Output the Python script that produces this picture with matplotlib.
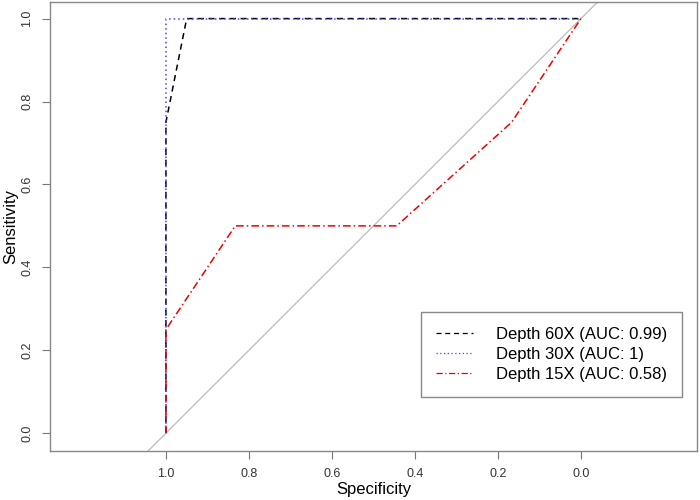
import matplotlib
matplotlib.use("Agg")
import matplotlib.pyplot as plt

plt.rcParams['font.family'] = ['Liberation Sans', 'DejaVu Sans']

# ROC points (specificity, sensitivity)
spec_60 = [1.0, 1.0, 0.95, 0.0]
sens_60 = [0.0, 0.75, 1.0, 1.0]

spec_30 = [1.0, 1.0, 0.0]
sens_30 = [0.0, 1.0, 1.0]

spec_15 = [1.0, 1.0, 0.833, 0.444, 0.167, 0.0]
sens_15 = [0.0, 0.25, 0.5, 0.5, 0.75, 1.0]

labels = ["Depth 60X (AUC: 0.99)", "Depth 30X (AUC: 1)", "Depth 15X (AUC: 0.58)"]
ticks = [1.0, 0.8, 0.6, 0.4, 0.2, 0.0]

fig = plt.figure(figsize=(7, 5), dpi=100)
ax = fig.add_axes([0.071, 0.098, 0.925, 0.898])

# diagonal reference line
ax.axline((1, 0), (0, 1), color="#bbbbbb", lw=0.9, zorder=1)

ax.plot(spec_60, sens_60, color="black", ls=(0, (4, 3)), lw=1.1, label=labels[0])
ax.plot(spec_30, sens_30, color="#4444ff", ls=(0, (1, 2)), lw=1.1, label=labels[1])
ax.plot(spec_15, sens_15, color="#ee0000", ls=(0, (5, 2, 1, 2)), lw=1.1, label=labels[2])

ax.set_xlim(1.28, -0.28)
ax.set_ylim(-0.043, 1.04)
ax.set_xticks(ticks)
ax.set_xticklabels([f"{t:.1f}" for t in ticks])
ax.set_yticks(ticks)
ax.set_yticklabels([f"{t:.1f}" for t in ticks], rotation=90, va="center")
ax.tick_params(length=6, width=0.8, color="#777777", labelsize=9, labelcolor="#333333", pad=6)

for sp in ax.spines.values():
    sp.set_color("#888888")
    sp.set_linewidth(1.0)

ax.set_xlabel("Specificity", fontsize=12)
ax.set_ylabel("Sensitivity", fontsize=12)
ax.xaxis.set_label_coords(0.5, -0.068)
ax.yaxis.set_label_coords(-0.048, 0.5)

leg = ax.legend(loc="lower right", bbox_to_anchor=(0.977, 0.12), borderaxespad=0,
                fontsize=12, handlelength=2.2, fancybox=False, framealpha=1,
                edgecolor="#888888", borderpad=0.9, labelspacing=0.3,
                handletextpad=1.4)
leg.get_frame().set_linewidth(1.0)
for line in leg.get_lines():
    line.set_linewidth(0.9)

fig.savefig("out.png", dpi=100)
